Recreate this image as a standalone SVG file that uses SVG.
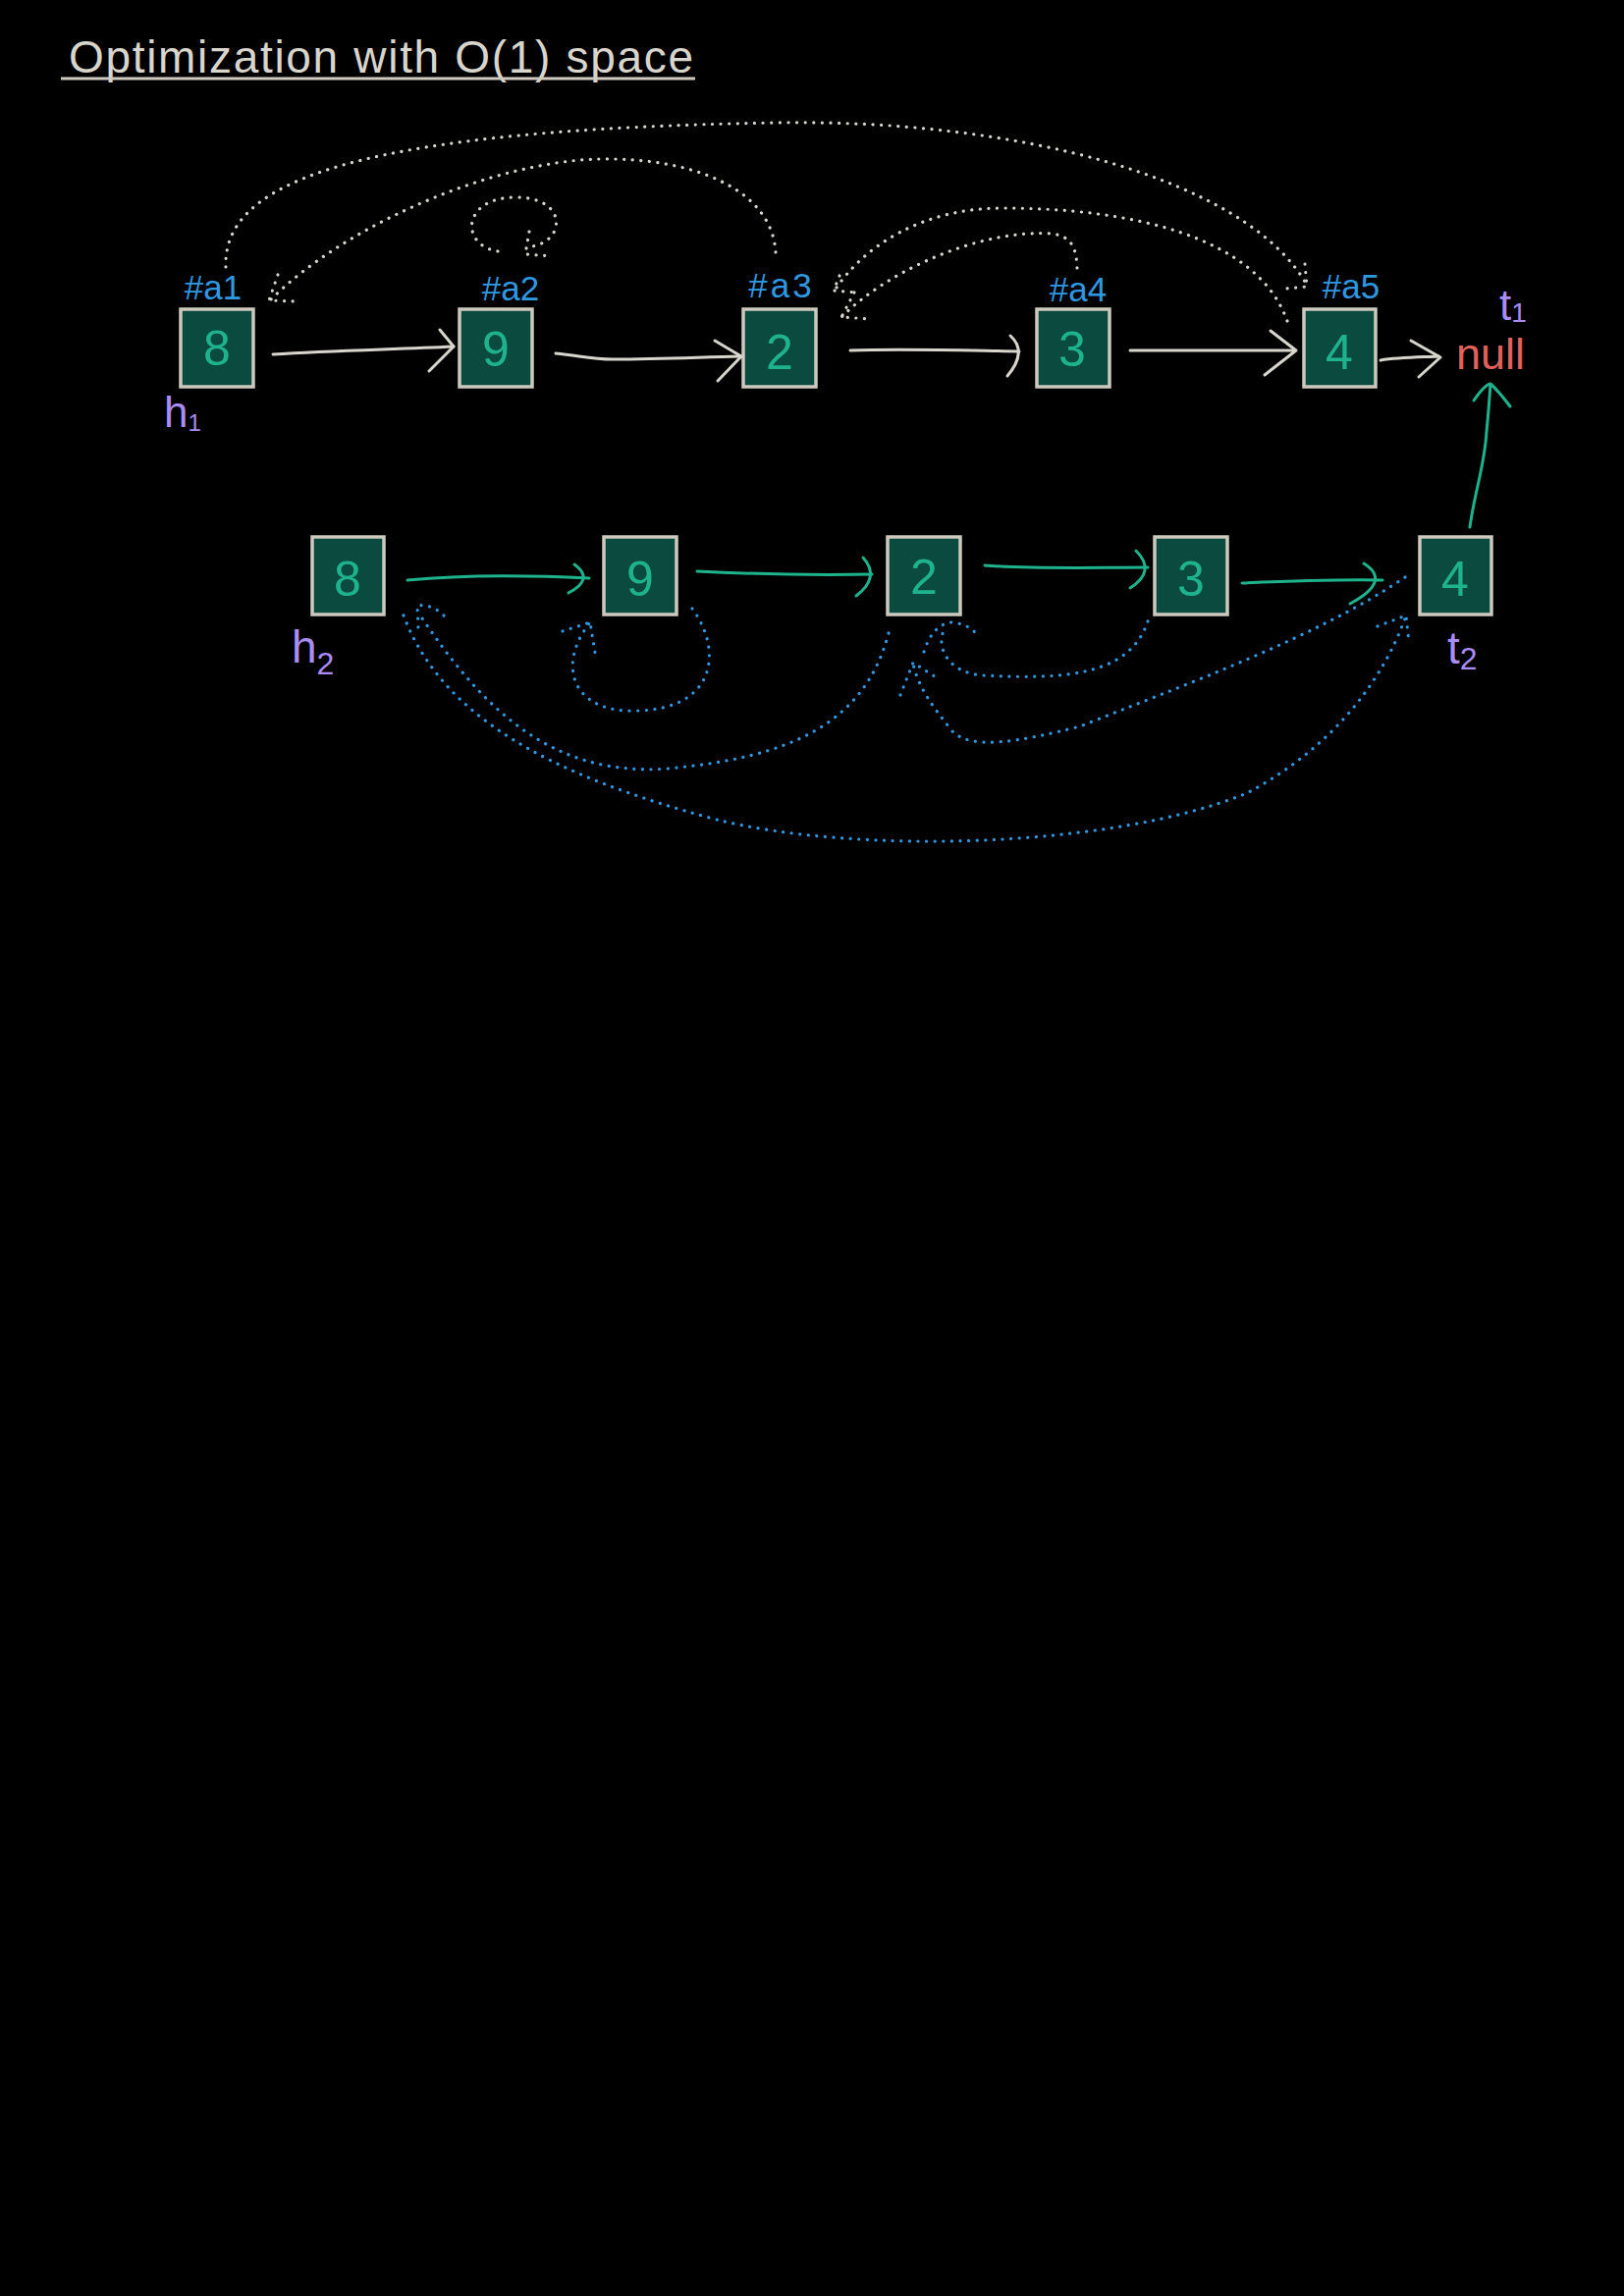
<svg xmlns="http://www.w3.org/2000/svg" width="1654" height="2339" viewBox="0 0 1654 2339">
<style>
.bg{fill:#000}
.box{fill:#0b4a3e;stroke:#cdc9bf;stroke-width:3.5}
.dig{font-family:"Liberation Sans",Arial,sans-serif;font-size:50px;fill:#1fb38d;text-anchor:middle}
.lbl{font-family:"Liberation Sans",Arial,sans-serif;font-size:35px;fill:#2f98e0;text-anchor:middle}
.ptr{font-family:"Liberation Sans",Arial,sans-serif;fill:#a98cf5}
.wl{fill:none;stroke:#d8d5cd;stroke-width:3;stroke-linecap:round;stroke-linejoin:round}
.gl{fill:none;stroke:#1fb38d;stroke-width:3;stroke-linecap:round;stroke-linejoin:round}
.wd{fill:none;stroke:#d8d5cd;stroke-width:3.2;stroke-linecap:round;stroke-dasharray:0.1 8.5}
.bd{fill:none;stroke:#2f98e0;stroke-width:3.2;stroke-linecap:round;stroke-dasharray:0.1 8.5}
</style>
<rect class="bg" x="0" y="0" width="1654" height="2339"/>

<g id="title">
<text x="70" y="74" font-family="'Liberation Sans',Arial,sans-serif" font-size="46" fill="#d8d5cd" textLength="636" lengthAdjust="spacing">Optimization with O(1) space</text>
<line x1="62" y1="80" x2="708" y2="80" stroke="#cfcac0" stroke-width="3"/>
</g>

<!-- top list -->
<g id="a1"><rect class="box" x="184" y="315" width="74" height="79"/><text class="dig" x="221" y="372">8</text><text class="lbl" x="217" y="305">#a1</text></g>
<g id="a2"><rect class="box" x="468" y="315" width="74" height="79"/><text class="dig" x="505" y="373">9</text><text class="lbl" x="520" y="306">#a2</text></g>
<g id="a3"><rect class="box" x="757" y="315" width="74" height="79"/><text class="dig" x="794" y="376">2</text><text class="lbl" x="796" y="303" letter-spacing="3">#a3</text></g>
<g id="a4"><rect class="box" x="1056" y="315" width="74" height="79"/><text class="dig" x="1092" y="373">3</text><text class="lbl" x="1098" y="307">#a4</text></g>
<g id="a5"><rect class="box" x="1328" y="315" width="73" height="79"/><text class="dig" x="1364" y="376">4</text><text class="lbl" x="1376" y="304">#a5</text></g>
<g id="null"><text x="1518" y="376" font-family="'Liberation Sans',Arial,sans-serif" font-size="45" fill="#e0625a" text-anchor="middle">null</text></g>
<g id="h1"><text class="ptr" x="167" y="435" font-size="44">h<tspan font-size="24" dy="4">1</tspan></text></g>
<g id="t1"><text class="ptr" x="1527" y="326" font-size="44">t<tspan font-size="28" dy="2">1</tspan></text></g>

<!-- bottom list -->
<g id="b8"><rect class="box" x="318" y="547" width="73" height="79"/><text class="dig" x="354" y="607">8</text></g>
<g id="b9"><rect class="box" x="615" y="547" width="74" height="79"/><text class="dig" x="652" y="607">9</text></g>
<g id="b2"><rect class="box" x="904" y="547" width="74" height="79"/><text class="dig" x="941" y="605">2</text></g>
<g id="b3"><rect class="box" x="1176" y="547" width="74" height="79"/><text class="dig" x="1213" y="607">3</text></g>
<g id="b4"><rect class="box" x="1446" y="547" width="73" height="79"/><text class="dig" x="1482" y="607">4</text></g>
<g id="h2"><text class="ptr" x="297" y="675" font-size="46">h<tspan font-size="32" dy="12">2</tspan></text></g>
<g id="t2"><text class="ptr" x="1474" y="676" font-size="46">t<tspan font-size="32" dy="6">2</tspan></text></g>

<g id="connectors">
<!-- top solid -->
<path class="wl" d="M278,361 C340,357 400,356 462,353"/>
<path class="wl" d="M448,336 L462,353 L437,378"/>
<path class="wl" d="M566,360 C590,362 600,366 625,366 C670,366 710,364 753,363"/>
<path class="wl" d="M728,347 L755,363 L731,388"/>
<path class="wl" d="M866,357 C920,355 980,357 1038,358"/>
<path class="wl" d="M1029,342 Q1047,358 1026,383"/>
<path class="wl" d="M1151,357 L1319,357"/>
<path class="wl" d="M1294,337 L1320,357 L1288,382"/>
<path class="wl" d="M1406,367 C1425,364 1445,364 1465,363"/>
<path class="wl" d="M1437,347 L1467,364 L1445,384"/>
<!-- bottom solid green -->
<path class="gl" d="M415,591 C480,585 540,586 600,589"/>
<path class="gl" d="M585,575 Q606,590 579,604"/>
<path class="gl" d="M710,582 C770,585 830,586 888,585"/>
<path class="gl" d="M879,568 Q897,588 872,607"/>
<path class="gl" d="M1003,576 C1060,580 1110,578 1169,578"/>
<path class="gl" d="M1157,561 Q1178,582 1151,599"/>
<path class="gl" d="M1265,594 C1310,592 1360,590 1408,591"/>
<path class="gl" d="M1389,574 Q1418,592 1375,615"/>
<path class="gl" d="M1497,537 C1502,500 1512,475 1514,440 C1516,420 1517,405 1518,392"/>
<path class="gl" d="M1501,408 Q1512,392 1518,391 Q1526,398 1538,414"/>
<!-- top dotted white -->
<path class="wd" d="M230,272 C226,180 380,132 790,125 C1030,121 1270,180 1332,292"/>
<path class="wd" d="M1329,269 L1331,292 L1309,294"/>
<path class="wd" d="M790,257 C786,190 700,160 610,162 C500,165 350,230 274,307"/>
<path class="wd" d="M283,280 L274,306 L301,307"/>
<path class="wd" d="M507,256 C468,250 470,200 527,201 C578,202 576,245 542,251"/>
<path class="wd" d="M539,236 L535,259 L563,261"/>
<path class="wd" d="M1311,327 C1280,240 1150,212 1021,212 C940,212 880,250 850,296"/>
<path class="wd" d="M855,281 L849,296 L873,298"/>
<path class="wd" d="M1097,273 C1096,240 1082,236 1048,238 C980,242 900,280 857,323"/>
<path class="wd" d="M870,298 L857,323 L887,325"/>
<!-- bottom dotted blue -->
<path class="bd" d="M705,620 C735,660 732,722 649,724 C585,727 565,680 601,634"/>
<path class="bd" d="M573,643 L601,634 L606,665"/>
<path class="bd" d="M905,645 C880,740 800,772 680,783 C560,792 490,720 426,624"/>
<path class="bd" d="M452,627 Q440,615 425,617 L426,641"/>
<path class="bd" d="M411,627 C450,730 560,790 730,835 C870,870 1130,865 1270,808 C1360,760 1410,690 1432,627"/>
<path class="bd" d="M1403,638 L1432,627 L1435,655"/>
<path class="bd" d="M1169,633 C1150,690 1080,692 1001,688 C960,685 952,652 964,638"/>
<path class="bd" d="M941,664 Q950,636 969,634 Q990,636 997,650"/>
<path class="bd" d="M1431,588 C1340,650 1200,700 1100,740 C1040,755 990,765 970,745 C950,720 935,700 930,676"/>
<path class="bd" d="M917,708 L930,675 L958,693"/>
</g>
</svg>
